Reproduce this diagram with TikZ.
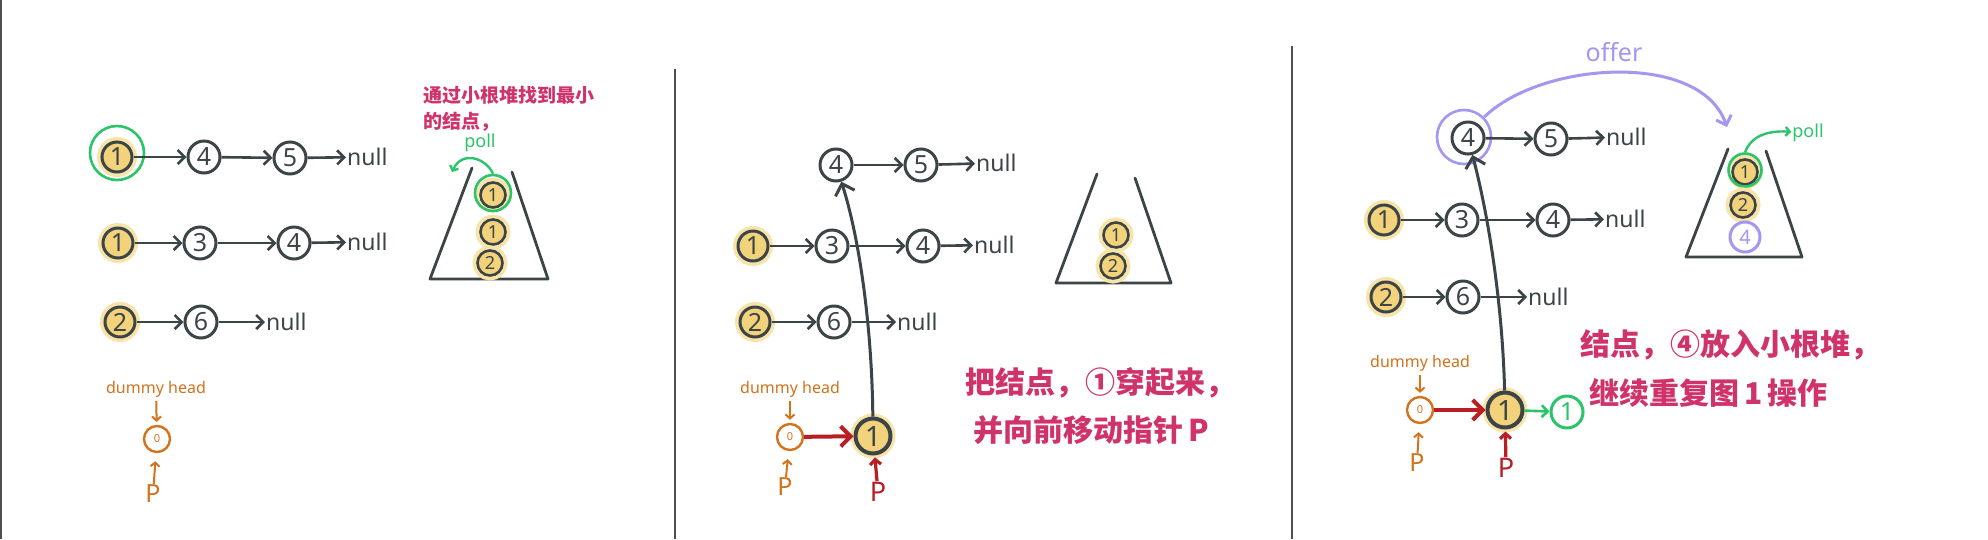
\documentclass[tikz,border=0pt]{standalone}
\usepackage{fontspec}
\setmainfont{Noto Sans}
\newfontfamily\cjk{Noto Sans CJK SC}
\usetikzlibrary{arrows.meta}
\definecolor{ink}{HTML}{3B4446}
\definecolor{gold}{HTML}{F2D27B}
\definecolor{glow}{HTML}{F8E4A8}
\definecolor{mint}{HTML}{2BC46A}
\definecolor{rose}{HTML}{D0336A}
\definecolor{rust}{HTML}{D2731E}
\definecolor{crimson}{HTML}{B81E24}
\definecolor{lilac}{HTML}{A397F2}
\definecolor{rule}{HTML}{4F4F4F}

\begin{document}
\begin{tikzpicture}[x=1pt, y=-1pt,
  nd/.style={circle, draw=ink, line width=3pt, minimum size=32pt, inner sep=0pt,
             text=ink, font=\fontsize{25}{25}\selectfont},
  hd/.style={nd, fill=gold, minimum size=30pt, preaction={draw=glow, line width=10pt}},
  hp/.style={hd, minimum size=25pt, line width=2.6pt, font=\fontsize{18}{18}\selectfont},
  big/.style={hd, minimum size=35pt, line width=4pt, font=\fontsize{28}{28}\selectfont},
  ring/.style={circle, draw=#1, line width=2.6pt, inner sep=0pt},
  nul/.style={anchor=west, inner sep=1pt, text=ink, font=\fontsize{23}{23}\selectfont},
  lnk/.style={ink, line width=2.6pt, -{Straight Barb[length=7pt,width=14pt]}},
  up/.style={ink, line width=3pt, -{Straight Barb[length=10pt,width=20pt]}},
  dum/.style={inner sep=1pt, text=rust, font=\fontsize{16}{16}\selectfont},
  zr/.style={circle, draw=rust, line width=2.4pt, minimum size=26pt, inner sep=0pt,
             text=rust, font=\fontsize{11}{11}\selectfont},
  pp/.style={inner sep=1pt, text=rust, font=\fontsize{25}{25}\selectfont},
  pr/.style={pp, text=crimson, font=\bfseries\fontsize{27}{27}\selectfont},
  thin/.style={rust, line width=2pt, -{Straight Barb[length=4pt,width=9pt]}},
  thinr/.style={crimson, line width=3.2pt, -{Straight Barb[length=5pt,width=11pt]}},
  move/.style={crimson, line width=4pt, -{Straight Barb[length=10pt,width=20pt]}},
  note/.style={anchor=west, inner sep=0pt, text=rose, font=\cjk\bfseries\fontsize{30}{30}\selectfont},
  pl/.style={inner sep=1pt, text=mint, font=\fontsize{18}{18}\selectfont},
  bin/.style={ink, line width=2.8pt, line join=round, line cap=round}]
  \fill[white] (0,0) rectangle (1988,539);
  \useasboundingbox (0,0) rectangle (1988,539);
  % frame lines
  \draw[rule, line width=2pt] (1,0) -- (1,539);
  \draw[rule, line width=2pt] (675,69) -- (675,539);
  \draw[rule, line width=2pt] (1292,46) -- (1292,539);

  % ---- step 1 ----
  \node[ring=mint, minimum size=54pt] (uR) at (117,153) {};
  \node[hd] (uA1) at (117,157) {1};
  \node[nd] (uA4) at (204,157) {4};
  \node[nd] (uA5) at (290,158) {5};
  \node[nul] (uAn) at (346,157) {null};
  \draw[lnk] (uA1) -- (uA4);
  \draw[lnk] (uA4) -- (uA5);
  \draw[lnk] (uA5) -- (uAn);
  \node[hd] (uB1) at (118,243) {1};
  \node[nd] (uB3) at (200,243) {3};
  \node[nd] (uB4) at (294,243) {4};
  \node[nul] (uBn) at (346,242) {null};
  \draw[lnk] (uB1) -- (uB3);
  \draw[lnk] (uB3) -- (uB4);
  \draw[lnk] (uB4) -- (uBn);
  \node[hd] (uC2) at (120,322) {2};
  \node[nd] (uC6) at (201,322) {6};
  \node[nul] (uCn) at (265,322) {null};
  \draw[lnk] (uC2) -- (uC6);
  \draw[lnk] (uC6) -- (uCn);
  % heap
  \draw[bin] (472,168) -- (430,279) -- (548,279) -- (512,172);
  \node[hp] (uH1) at (493,195) {1};
  \node[ring=mint, minimum size=36pt] (uHR) at (493,193) {};
  \node[hp] (uH2) at (493,232) {1};
  \node[hp] (uH3) at (490,263) {2};
  \node[pl] (uPoll) at (480,143) {poll};
  \coordinate (uOut) at (452,172);
  \draw[mint, line width=2.4pt, -{Straight Barb[length=4pt,width=9pt]}]
    (uHR.north) .. controls (486,158) and (462,150) .. (uOut);
  \node[note, font=\cjk\bfseries\fontsize{19}{19}\selectfont] (uT1) at (423,95) {通过小根堆找到最小};
  \node[note, font=\cjk\bfseries\fontsize{19}{19}\selectfont] (uT2) at (423,122) {的结点，};
  % dummy
  \node[dum] (uD) at (156,389) {dummy head};
  \node[zr] (u0) at (157,439) {0};
  \node[pp] (uP) at (153,494) {P};
  \draw[thin, shorten <=3pt, shorten >=3pt] (uD) -- (u0);
  \draw[thin, shorten >=8pt] (uP) -- (u0);

  % ---- step 2 ----
  \node[nd] (vA4) at (836,165) {4};
  \node[nd] (vA5) at (921,165) {5};
  \node[nul] (vAn) at (975,163) {null};
  \draw[lnk] (vA4) -- (vA5);
  \draw[lnk] (vA5) -- (vAn);
  \node[hd] (vB1) at (753,246) {1};
  \node[nd] (vB3) at (832,246) {3};
  \node[nd] (vB4) at (923,246) {4};
  \node[nul] (vBn) at (973,245) {null};
  \draw[lnk] (vB1) -- (vB3);
  \draw[lnk] (vB3) -- (vB4);
  \draw[lnk] (vB4) -- (vBn);
  \node[hd] (vC2) at (755,322) {2};
  \node[nd] (vC6) at (834,322) {6};
  \node[nul] (vCn) at (896,322) {null};
  \draw[lnk] (vC2) -- (vC6);
  \draw[lnk] (vC6) -- (vCn);
  \node[big] (vX) at (873,436) {1};
  \draw[up] (vX) .. controls (872,330) and (860,240) .. (vA4);
  % heap
  \draw[bin] (1097,174) -- (1056,283) -- (1171,283) -- (1135,178);
  \node[hp] (vH1) at (1116,235) {1};
  \node[hp] (vH2) at (1113,266) {2};
  % dummy
  \node[dum] (vD) at (790,389) {dummy head};
  \node[zr] (v0) at (790,437) {0};
  \node[pp] (vP) at (785,487) {P};
  \node[pr] (vQ) at (878,492) {P};
  \draw[thin, shorten <=3pt, shorten >=3pt] (vD) -- (v0);
  \draw[thin, shorten >=8pt] (vP) -- (v0);
  \draw[move] (v0) -- (vX);
  \draw[thinr, shorten >=2pt] (vQ) -- (vX);
  \node[note] (vT1) at (965,383) {把结点，①穿起来，};
  \node[note] (vT2) at (973,430) {并向前移动指针\,P};

  % ---- step 3 ----
  \node[ring=lilac, minimum size=54pt] (wR) at (1464,137) {};
  \node[nd] (wA4) at (1468,138) {4};
  \node[nd] (wA5) at (1551,139) {5};
  \node[nul] (wAn) at (1605,137) {null};
  \draw[lnk] (wA4) -- (wA5);
  \draw[lnk] (wA5) -- (wAn);
  \node[hd] (wB1) at (1384,220) {1};
  \node[nd] (wB3) at (1462,220) {3};
  \node[nd] (wB4) at (1553,220) {4};
  \node[nul] (wBn) at (1604,219) {null};
  \draw[lnk] (wB1) -- (wB3);
  \draw[lnk] (wB3) -- (wB4);
  \draw[lnk] (wB4) -- (wBn);
  \node[hd] (wC2) at (1386,297) {2};
  \node[nd] (wC6) at (1463,297) {6};
  \node[nul] (wCn) at (1527,297) {null};
  \draw[lnk] (wC2) -- (wC6);
  \draw[lnk] (wC6) -- (wCn);
  \node[big] (wX) at (1505,410) {1};
  \draw[up] (wX) .. controls (1503,320) and (1492,230) .. (wA4);
  \node[nd, draw=mint, text=mint] (wG) at (1567,412) {1};
  \draw[mint, line width=2.6pt, -{Straight Barb[length=6pt,width=12pt]}] (wX) -- (wG);
  % offer
  \node[inner sep=1pt, text=lilac, font=\fontsize{25}{25}\selectfont] (wOffer) at (1614,52) {offer};
  \coordinate (wIn) at (1727,127);
  \draw[lilac, line width=3pt, -{Straight Barb[length=8pt,width=16pt]}]
    (wR) .. controls (1540,62) and (1700,50) .. (wIn);
  % heap
  \draw[bin] (1728,149) -- (1686,257) -- (1802,257) -- (1766,151);
  \node[hp] (wH1) at (1745,172) {1};
  \node[ring=mint, minimum size=33pt] (wHR) at (1745,170) {};
  \node[hp] (wH2) at (1743,205) {2};
  \node[nd, draw=lilac, text=lilac, minimum size=30pt, font=\fontsize{20}{20}\selectfont] (wH3) at (1745,237) {4};
  \node[pl] (wPoll) at (1808,133) {poll};
  \draw[mint, line width=2.4pt, -{Straight Barb[length=4pt,width=9pt]}]
    (wHR.north) .. controls (1750,138) and (1765,130) .. (wPoll);
  % dummy
  \node[dum] (wD) at (1420,363) {dummy head};
  \node[zr] (w0) at (1420,410) {0};
  \node[pp] (wP) at (1417,463) {P};
  \node[pr] (wQ) at (1506,468) {P};
  \draw[thin, shorten <=3pt, shorten >=3pt] (wD) -- (w0);
  \draw[thin, shorten >=8pt] (wP) -- (w0);
  \draw[move] (w0) -- (wX);
  \draw[thinr, shorten >=2pt] (wQ) -- (wX);
  \node[note] (wT1) at (1580,345) {结点，④放入小根堆，};
  \node[note] (wT2) at (1589,393) {继续重复图\,1\,操作};
\end{tikzpicture}
\end{document}
